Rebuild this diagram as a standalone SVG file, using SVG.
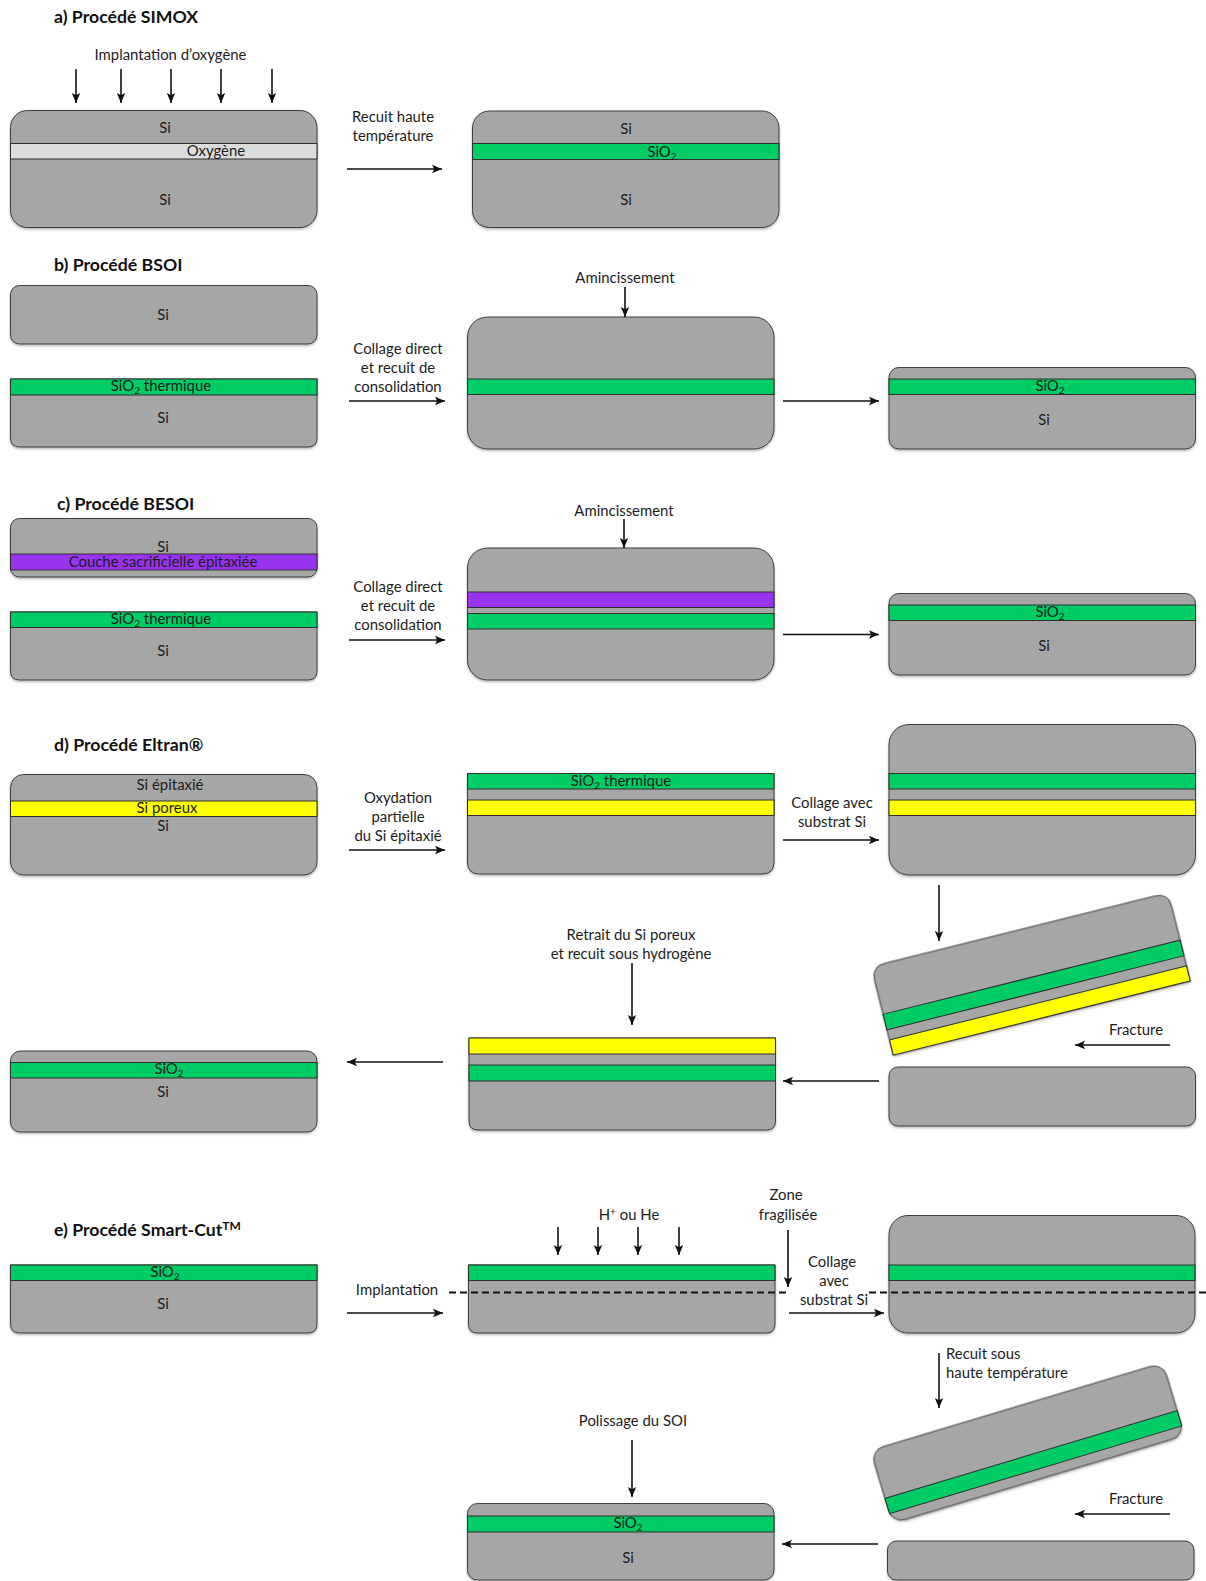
<svg xmlns="http://www.w3.org/2000/svg" width="1206" height="1581" viewBox="0 0 1206 1581">
<defs>
<marker id="ah" markerUnits="userSpaceOnUse" markerWidth="11" markerHeight="10" refX="10" refY="5" orient="auto"><path d="M0,0.8 L10,5 L0,9.2 L2.2,5 Z" fill="#111"/></marker>
<filter id="sh" x="-5%" y="-10%" width="110%" height="125%"><feDropShadow dx="0" dy="1.5" stdDeviation="1" flood-color="#000" flood-opacity="0.3"/></filter>
</defs>
<style>
.w{fill:#a6a6a6;stroke:#3f3f3f;stroke-width:1;filter:url(#sh)}
.b{stroke:#2f2f2f;stroke-width:1}
.g{fill:#00cc66}.y{fill:#ffff00}.p{fill:#9933f0}.o{fill:#dcdcdc}
text{font-family:"Lato","Open Sans","Liberation Sans",sans-serif;font-size:14.9px;fill:#1c1c1c;text-anchor:middle}
.t{font-size:17.7px;font-weight:700;text-anchor:start;fill:#111}
.l{text-anchor:start}
.s{font-size:10px}
.a{stroke:#111;stroke-width:1.6;fill:none;marker-end:url(#ah)}
.d{stroke:#111;stroke-width:2;fill:none;stroke-dasharray:7 4}
</style>

<g id="a-left">
<rect class="w" x="10.500" y="110.500" width="306.500" height="117" rx="17"/>
<rect class="b o" x="10.500" y="143.500" width="306.500" height="15.500"/>
<text x="165" y="133">Si</text><text x="216" y="156">Oxygène</text><text x="165" y="205">Si</text>
</g>
<g id="a-right">
<rect class="w" x="472.500" y="111" width="306.500" height="116.500" rx="17"/>
<rect class="b g" x="472.500" y="143.500" width="306.500" height="16"/>
<text x="626" y="134">Si</text><text x="662" y="157">SiO<tspan class="s" dy="3">2</tspan></text><text x="626" y="205">Si</text>
</g>

<g id="b-top"><rect class="w" x="10.500" y="285.500" width="306.500" height="58.500" rx="9"/><text x="163" y="320">Si</text></g>
<g id="b-bottom">
<path class="w" d="M10.500,379 H317 V438 Q317,447 308,447 H19.500 Q10.500,447 10.500,438 Z"/>
<rect class="b g" x="10.500" y="379" width="306.500" height="16"/>
<text x="161" y="391">SiO<tspan class="s" dy="3">2</tspan><tspan dy="-3"> thermique</tspan></text><text x="163" y="423">Si</text>
</g>
<g id="b-middle">
<rect class="w" x="467.500" y="317" width="306.500" height="132" rx="20"/>
<rect class="b g" x="467.500" y="379" width="306.500" height="15.500"/>
</g>
<g id="b-right">
<rect class="w" x="889" y="367.500" width="306.500" height="81.500" rx="10"/>
<rect class="b g" x="889" y="379" width="306.500" height="15.500"/>
<text x="1050" y="391">SiO<tspan class="s" dy="3">2</tspan></text><text x="1044" y="425">Si</text>
</g>

<g id="c-top">
<rect class="w" x="10.500" y="518.500" width="306.500" height="58.500" rx="9"/>
<text x="163" y="552">Si</text>
<rect class="b p" x="10.500" y="554" width="306.500" height="16"/>
<text x="163" y="567">Couche sacrificielle épitaxiée</text>
</g>
<g id="c-bottom">
<path class="w" d="M10.500,612 H317 V671 Q317,680 308,680 H19.500 Q10.500,680 10.500,671 Z"/>
<rect class="b g" x="10.500" y="612" width="306.500" height="15.500"/>
<text x="161" y="624">SiO<tspan class="s" dy="3">2</tspan><tspan dy="-3"> thermique</tspan></text><text x="163" y="656">Si</text>
</g>
<g id="c-middle">
<rect class="w" x="467.500" y="548" width="306.500" height="132" rx="20"/>
<rect class="b p" x="467.500" y="592" width="306.500" height="15.500"/>
<rect class="b g" x="467.500" y="613.500" width="306.500" height="15.500"/>
</g>
<g id="c-right">
<rect class="w" x="889" y="593.500" width="306.500" height="81.500" rx="10"/>
<rect class="b g" x="889" y="605" width="306.500" height="15.500"/>
<text x="1050" y="617">SiO<tspan class="s" dy="3">2</tspan></text><text x="1044" y="651">Si</text>
</g>

<g id="d-left">
<rect class="w" x="10.500" y="774.500" width="306.500" height="100.500" rx="13"/>
<rect class="b y" x="10.500" y="801" width="306.500" height="15.500"/>
<text x="170" y="790">Si épitaxié</text><text x="167" y="813">Si poreux</text><text x="163" y="831">Si</text>
</g>
<g id="d-middle">
<path class="w" d="M467.500,773.500 H774 V862 Q774,874 762,874 H479.500 Q467.500,874 467.500,862 Z"/>
<rect class="b g" x="467.500" y="773.500" width="306.500" height="15.500"/>
<rect class="b y" x="467.500" y="800" width="306.500" height="15.500"/>
<text x="621" y="786">SiO<tspan class="s" dy="3">2</tspan><tspan dy="-3"> thermique</tspan></text>
</g>
<g id="d-right">
<rect class="w" x="889" y="724.500" width="306.500" height="150.500" rx="20"/>
<rect class="b g" x="889" y="773.500" width="306.500" height="15.500"/>
<rect class="b y" x="889" y="800" width="306.500" height="15.500"/>
</g>
<g id="d-tilted" transform="translate(893.300,1055) rotate(-14)">
<path class="w" d="M0,0 V-77 Q0,-91 14,-91 H292 Q306,-91 306,-77 V0 Z"/>
<rect class="b g" x="0" y="-42" width="306" height="16"/>
<rect class="b y" x="0" y="-15.500" width="306" height="15.500"/>
</g>
<g id="d-lower"><rect class="w" x="889" y="1067" width="306.500" height="59" rx="9"/></g>
<g id="d-bottom-middle">
<path class="w" d="M469,1038 H775.500 V1121 Q775.500,1130 766.500,1130 H478 Q469,1130 469,1121 Z"/>
<rect class="b y" x="469" y="1038" width="306.500" height="16"/>
<rect class="b g" x="469" y="1065" width="306.500" height="16"/>
</g>
<g id="d-bottom-left">
<rect class="w" x="10.500" y="1051" width="306.500" height="81" rx="10"/>
<rect class="b g" x="10.500" y="1062.500" width="306.500" height="15.500"/>
<text x="169" y="1074">SiO<tspan class="s" dy="3">2</tspan></text><text x="163" y="1097">Si</text>
</g>

<g id="e-left">
<path class="w" d="M10.500,1265 H317 V1324 Q317,1333 308,1333 H19.500 Q10.500,1333 10.500,1324 Z"/>
<rect class="b g" x="10.500" y="1265" width="306.500" height="15.500"/>
<text x="165" y="1277">SiO<tspan class="s" dy="3">2</tspan></text><text x="163" y="1309">Si</text>
</g>
<g id="e-middle">
<path class="w" d="M468.500,1265 H775 V1324 Q775,1333 766,1333 H477.500 Q468.500,1333 468.500,1324 Z"/>
<rect class="b g" x="468.500" y="1265" width="306.500" height="15.500"/>
</g>
<g id="e-right">
<rect class="w" x="889" y="1215.500" width="306" height="117.500" rx="19"/>
<rect class="b g" x="889" y="1265" width="306" height="15.500"/>
</g>
<g id="e-tilted" transform="translate(885,1498.300) rotate(-16.700)">
<rect class="w" x="0" y="-50" width="305" height="76" rx="13"/>
<rect class="b g" x="0" y="0" width="305" height="16"/>
</g>
<g id="e-lower"><rect class="w" x="887.500" y="1541" width="306.500" height="39" rx="9"/></g>
<g id="e-bottom-middle">
<rect class="w" x="467.500" y="1503.500" width="306.500" height="76.500" rx="10"/>
<rect class="b g" x="467.500" y="1516" width="306.500" height="16"/>
<text x="628" y="1528">SiO<tspan class="s" dy="3">2</tspan></text><text x="628" y="1563">Si</text>
</g>

<g id="connectors">
<path class="a" d="M76,69V103"/><path class="a" d="M121,69V103"/><path class="a" d="M171,69V103"/><path class="a" d="M221,69V103"/><path class="a" d="M272,69V103"/>
<path class="a" d="M347,169H442"/>
<path class="a" d="M349,401H445"/><path class="a" d="M783,401H879"/><path class="a" d="M625,287V317"/>
<path class="a" d="M349,640H445"/><path class="a" d="M783,634.500H879"/><path class="a" d="M624,519V548"/>
<path class="a" d="M349,850H445"/><path class="a" d="M783,840H879"/><path class="a" d="M939,885V941"/>
<path class="a" d="M1170,1045H1075"/><path class="a" d="M879,1081H783"/><path class="a" d="M632,963V1025"/><path class="a" d="M443,1062H347"/>
<path class="a" d="M347,1313H443"/>
<path class="a" d="M558,1227V1255"/><path class="a" d="M598,1227V1255"/><path class="a" d="M638,1227V1255"/><path class="a" d="M679,1227V1255"/>
<path class="a" d="M788,1230V1287"/><path class="a" d="M789,1313H884"/>
<path class="d" d="M449,1292.500H790"/><path class="d" d="M869,1292.500H1206"/>
<path class="a" d="M939,1353V1408"/>
<path class="a" d="M1170,1514H1075"/><path class="a" d="M878,1544H782"/><path class="a" d="M632,1440V1497"/>
</g>

<g id="labels">
<text class="t" x="54" y="23">a) Procédé SIMOX</text>
<text x="170.500" y="60">Implantation d’oxygène</text>
<text x="393" y="122">Recuit haute</text><text x="393" y="141">température</text>
<text class="t" x="54" y="271">b) Procédé BSOI</text>
<text x="625" y="283">Amincissement</text>
<text x="398" y="354">Collage direct</text><text x="398" y="373">et recuit de</text><text x="398" y="392">consolidation</text>
<text class="t" x="57" y="510">c) Procédé BESOI</text>
<text x="624" y="516">Amincissement</text>
<text x="398" y="592">Collage direct</text><text x="398" y="611">et recuit de</text><text x="398" y="630">consolidation</text>
<text class="t" x="54" y="751">d) Procédé Eltran®</text>
<text x="398" y="803">Oxydation</text><text x="398" y="822">partielle</text><text x="398" y="841">du Si épitaxié</text>
<text x="832" y="808">Collage avec</text><text x="832" y="827">substrat Si</text>
<text x="631" y="940">Retrait du Si poreux</text><text x="631" y="959">et recuit sous hydrogène</text>
<text x="1136" y="1035">Fracture</text>
<text class="t" x="54" y="1236">e) Procédé Smart-Cut<tspan class="s" dy="-6" style="font-size:12px">TM</tspan></text>
<text x="397" y="1295">Implantation</text>
<text x="629" y="1220">H<tspan class="s" dy="-5">+</tspan><tspan dy="5"> ou He</tspan></text>
<text x="786" y="1200">Zone</text><text x="788" y="1220">fragilisée</text>
<text x="832" y="1267">Collage</text><text x="834" y="1286">avec</text><text x="834" y="1305">substrat Si</text>
<text class="l" x="946" y="1359">Recuit sous</text><text class="l" x="946" y="1378">haute température</text>
<text x="633" y="1426">Polissage du SOI</text>
<text x="1136" y="1504">Fracture</text>
</g>
</svg>
